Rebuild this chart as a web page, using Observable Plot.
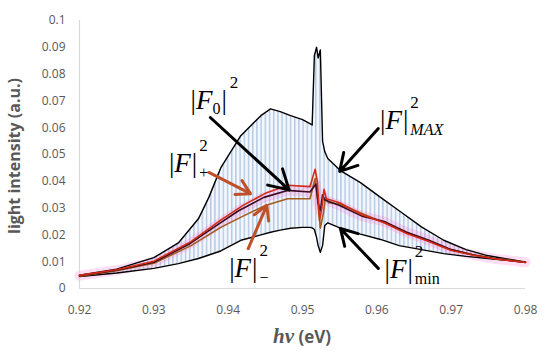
<!DOCTYPE html>
<html><head><meta charset="utf-8">
<script src="https://cdn.jsdelivr.net/npm/d3@7"></script>
<script src="https://cdn.jsdelivr.net/npm/@observablehq/plot@0.6"></script>
<style>body{margin:0;background:#fff}#chart{width:550px;height:360px}</style>
</head><body><div id="chart"></div>
<script>
// ---- data ----
const xTicks = [0.92, 0.93, 0.94, 0.95, 0.96, 0.97, 0.98];
const yTicks = [0, 0.01, 0.02, 0.03, 0.04, 0.05, 0.06, 0.07, 0.08, 0.09, 0.1];

// envelopes |F|^2 MAX and |F|^2 min (shared photon-energy samples)
const envEV  = [0.92, 0.925, 0.93, 0.9333, 0.936, 0.9374, 0.939, 0.9417, 0.9444, 0.9457, 0.947, 0.9484, 0.950, 0.951, 0.9513, 0.9516, 0.9519, 0.9521, 0.9524, 0.9527, 0.953, 0.9534, 0.9551, 0.9578, 0.9605, 0.963, 0.966, 0.969, 0.972, 0.975, 0.978, 0.98];
const maxI   = [0.0050, 0.0072, 0.0115, 0.017, 0.026, 0.034, 0.045, 0.057, 0.0645, 0.067, 0.066, 0.0645, 0.063, 0.0615, 0.061, 0.087, 0.090, 0.086, 0.089, 0.055, 0.051, 0.0485, 0.044, 0.0395, 0.034, 0.029, 0.023, 0.018, 0.0145, 0.0122, 0.0108, 0.0098];
const minI   = [0.0045, 0.0058, 0.0075, 0.0093, 0.0112, 0.0125, 0.014, 0.018, 0.020, 0.021, 0.0218, 0.0225, 0.0228, 0.0228, 0.0226, 0.022, 0.019, 0.016, 0.0135, 0.016, 0.0235, 0.0245, 0.0225, 0.0203, 0.0183, 0.016, 0.0145, 0.013, 0.012, 0.0112, 0.0104, 0.0097];

// |F0|^2
const f0EV = [0.92, 0.925, 0.93, 0.9347, 0.9387, 0.9414, 0.9448, 0.948, 0.951, 0.9518, 0.9521, 0.9524, 0.9527, 0.953, 0.955, 0.958, 0.961, 0.964, 0.967, 0.970, 0.973, 0.976, 0.98];
const f0I  = [0.0048, 0.0068, 0.0098, 0.0165, 0.0240, 0.029, 0.034, 0.0366, 0.036, 0.039, 0.032, 0.029, 0.035, 0.033, 0.031, 0.027, 0.025, 0.021, 0.018, 0.0145, 0.0125, 0.011, 0.0098];

// |F|^2 +
const fpEV = [0.92, 0.925, 0.93, 0.935, 0.939, 0.942, 0.945, 0.948, 0.951, 0.9517, 0.952, 0.9523, 0.9526, 0.9529, 0.9532, 0.955, 0.958, 0.961, 0.964, 0.967, 0.970, 0.973, 0.976, 0.98];
const fpI  = [0.0049, 0.0070, 0.0102, 0.0175, 0.0255, 0.031, 0.0355, 0.0385, 0.038, 0.0445, 0.040, 0.0255, 0.030, 0.037, 0.0335, 0.032, 0.0275, 0.0245, 0.0205, 0.0175, 0.0142, 0.0124, 0.011, 0.0097];

// |F|^2 -
const fmEV = [0.92, 0.925, 0.93, 0.935, 0.939, 0.942, 0.945, 0.948, 0.951, 0.9517, 0.952, 0.9524, 0.9528, 0.9531, 0.9535, 0.955, 0.958, 0.961, 0.964, 0.967, 0.970, 0.973, 0.976, 0.98];
const fmI  = [0.0046, 0.0066, 0.0094, 0.016, 0.0228, 0.027, 0.031, 0.0335, 0.0335, 0.041, 0.034, 0.0225, 0.028, 0.034, 0.032, 0.0315, 0.028, 0.0245, 0.021, 0.0178, 0.0145, 0.0126, 0.0112, 0.0099];

// annotations (data coordinates)
const arrows = [
  {x1: 0.9376, y1: 0.0638, x2: 0.9482, y2: 0.0368, color: "#000000"},
  {x1: 0.9602, y1: 0.0597, x2: 0.9550, y2: 0.0437, color: "#000000"},
  {x1: 0.9602, y1: 0.0075, x2: 0.9551, y2: 0.0224, color: "#000000"},
  {x1: 0.9374, y1: 0.0433, x2: 0.9430, y2: 0.0354, color: "#c0502a"},
  {x1: 0.9427, y1: 0.0149, x2: 0.9452, y2: 0.0310, color: "#c0502a"}
];
const labels = [
  {x: 0.9350, y: 0.0668, inner: "0", sub: ""},
  {x: 0.9321, y: 0.0432, inner: "", sub: "+"},
  {x: 0.9605, y: 0.0592, inner: "", sub: "MAX", italic: true},
  {x: 0.9611, y: 0.0036, inner: "", sub: "min"},
  {x: 0.9402, y: 0.0042, inner: "", sub: "\u2212"}
];

const rows = (xs, ys) => xs.map((x, i) => ({x, y: ys[i]}));
const env = envEV.map((x, i) => ({x, lo: minI[i], hi: maxI[i]}));
const f0 = rows(f0EV, f0I), fp = rows(fpEV, fpI), fm = rows(fmEV, fmI);

const fmt = d => String(+d.toFixed(2));

const chart = Plot.plot({
  width: 550, height: 360,
  marginLeft: 79, marginRight: 25, marginTop: 20, marginBottom: 72,
  x: {domain: [xTicks[0], xTicks[xTicks.length - 1]]},
  y: {domain: [yTicks[0], yTicks[yTicks.length - 1]]},
  style: {fontFamily: "'Open Sans', sans-serif", fontSize: "12px", color: "#595959", background: "white"},
  marks: [
    Plot.areaY(env, {x: "x", y1: "lo", y2: "hi", fill: "url(#stripes)", curve: "linear"}),
    Plot.line(f0, {x: "x", y: "y", stroke: "#ff66cc", strokeOpacity: 0.22, strokeWidth: 10}),
    Plot.ruleY([yTicks[0]], {stroke: "#d9d9d9", strokeWidth: 1.2}),
    Plot.ruleX([xTicks[0]], {stroke: "#d9d9d9", strokeWidth: 1.2}),
    Plot.line(env, {x: "x", y: "lo", stroke: "#000", strokeWidth: 1.4}),
    Plot.line(env, {x: "x", y: "hi", stroke: "#000", strokeWidth: 1.4}),
    Plot.line(fm, {x: "x", y: "y", stroke: "#a35a1c", strokeWidth: 1.6}),
    Plot.line(f0, {x: "x", y: "y", stroke: "#3b0a1e", strokeWidth: 1.6}),
    Plot.line(fp, {x: "x", y: "y", stroke: "#d42a16", strokeWidth: 1.6}),
    Plot.arrow(arrows, {x1: "x1", y1: "y1", x2: "x2", y2: "y2", stroke: d => d.color, strokeWidth: 3, headLength: 11}),
    Plot.axisY({ticks: yTicks, tickSize: 0, tickPadding: 14, tickFormat: fmt, label: null}),
    Plot.axisX({ticks: xTicks, tickSize: 0, tickPadding: 17, tickFormat: fmt, label: null})
  ]
});
document.getElementById("chart").appendChild(chart);

const svg = d3.select(chart);
// stripe pattern standing in for the fast-oscillating light-blue spectrum
const defs = svg.insert("defs", ":first-child");
const pat = defs.append("pattern").attr("id", "stripes").attr("patternUnits", "userSpaceOnUse")
  .attr("width", 4.2).attr("height", 10);
pat.append("rect").attr("width", 4.2).attr("height", 10).attr("fill", "#f3f7fc");
pat.append("rect").attr("x", 0).attr("width", 1.4).attr("height", 10).attr("fill", "#b4c9e4");

const sx = chart.scale("x"), sy = chart.scale("y");
const g = svg.append("g").attr("font-family", "'Liberation Serif', 'Times New Roman', serif")
  .attr("fill", "#000").attr("text-anchor", "start");
for (const L of labels) {
  const px = sx.apply(L.x), py = sy.apply(L.y);
  const t = g.append("text").attr("x", px).attr("y", py).attr("font-size", 27);
  t.append("tspan").text("|");
  t.append("tspan").attr("font-style", "italic").text("F");
  if (L.inner) {
    t.append("tspan").attr("font-size", 16).attr("dy", 5).text(L.inner);
    t.append("tspan").attr("dy", -5).attr("dx", 1).text("|");
  } else {
    t.append("tspan").attr("dx", 1).text("|");
  }
  const w = t.node().getComputedTextLength() + (L.inner ? 2 : 1);
  g.append("text").attr("x", px + w + 2).attr("y", py - 21).attr("font-size", 17).text("2");
  if (L.sub) {
    g.append("text").attr("x", px + w + 2).attr("y", py + 6).attr("font-size", 16)
      .attr("font-style", L.italic ? "italic" : "normal").text(L.sub);
  }
}

// axis titles
svg.append("text").attr("transform", "translate(20,156) rotate(-90)").attr("text-anchor", "middle")
  .attr("font-family", "'Open Sans', sans-serif").attr("font-weight", "bold").attr("font-size", 16)
  .attr("fill", "#595959").text("light intensity (a.u.)");
const xl = svg.append("text").attr("x", 302).attr("y", 343).attr("text-anchor", "middle")
  .attr("font-weight", "bold").attr("fill", "#595959");
xl.append("tspan").attr("font-family", "'Liberation Serif', serif").attr("font-style", "italic").attr("font-size", 21).text("h\u03BD");
xl.append("tspan").attr("font-family", "'Open Sans', sans-serif").attr("font-size", 17).text(" (eV)");
</script>
</body></html>
